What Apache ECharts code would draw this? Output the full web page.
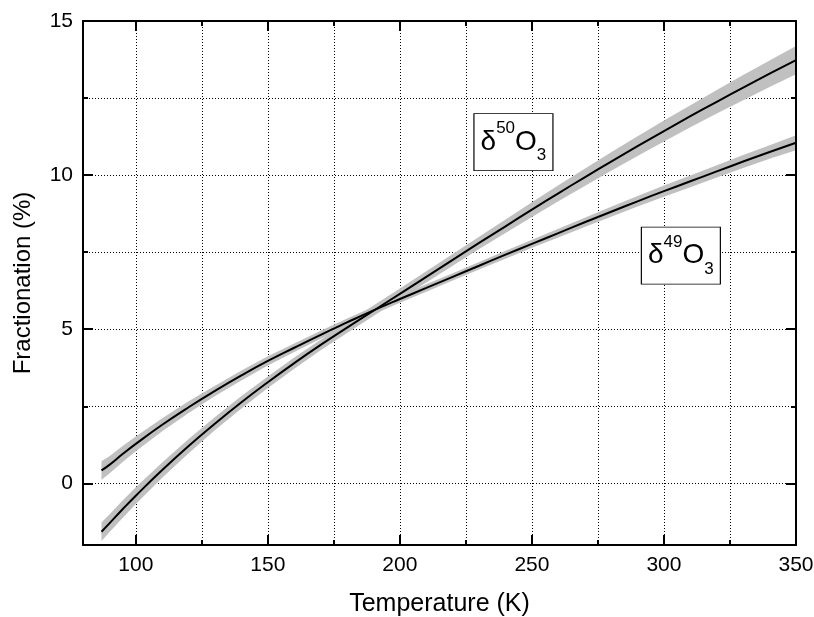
<!DOCTYPE html>
<html>
<head>
<meta charset="utf-8">
<script src="https://cdn.jsdelivr.net/npm/echarts@6/dist/echarts.min.js"></script>
<style>
  html, body { margin: 0; padding: 0; background: #fff; }
  #chart { width: 814px; height: 617px; }
</style>
</head>
<body>
<div id="chart"></div>
<script>
// Temperature grid (K)
const temps = [87, 90, 95, 100, 110, 120, 130, 140, 150, 160, 170, 180, 190, 200, 210, 220, 230, 240, 250, 260, 270, 280, 290, 300, 310, 320, 330, 340, 350];
// Fractionation of 50O3 (%) and its uncertainty
const d50 = [-1.57, -1.3, -0.84, -0.4, 0.43, 1.21, 1.94, 2.63, 3.28, 3.9, 4.49, 5.05, 5.6, 6.15, 6.7, 7.25, 7.8, 8.34, 8.88, 9.41, 9.93, 10.44, 10.94, 11.43, 11.91, 12.38, 12.84, 13.29, 13.73];
const d50Err = [0.3, 0.29, 0.28, 0.27, 0.25, 0.23, 0.21, 0.2, 0.19, 0.18, 0.17, 0.17, 0.17, 0.17, 0.18, 0.19, 0.2, 0.22, 0.24, 0.26, 0.28, 0.3, 0.32, 0.34, 0.36, 0.38, 0.41, 0.43, 0.46];
// Fractionation of 49O3 (%) and its uncertainty
const d49 = [0.42, 0.6, 0.95, 1.28, 1.9, 2.47, 3.0, 3.5, 3.97, 4.4, 4.82, 5.22, 5.61, 5.98, 6.34, 6.7, 7.06, 7.42, 7.77, 8.12, 8.47, 8.81, 9.15, 9.48, 9.8, 10.12, 10.44, 10.75, 11.05];
const d49Err = [0.3, 0.28, 0.26, 0.24, 0.21, 0.19, 0.17, 0.16, 0.15, 0.14, 0.13, 0.13, 0.12, 0.12, 0.12, 0.12, 0.12, 0.13, 0.13, 0.14, 0.15, 0.16, 0.17, 0.18, 0.19, 0.2, 0.21, 0.22, 0.24];

// Axis ticks and labels
const xMajor = [100, 150, 200, 250, 300, 350];
const xMinor = [125, 175, 225, 275, 325];
const xGrid = [100, 125, 150, 175, 200, 225, 250, 275, 300, 325];
const yMajor = [0, 5, 10, 15];
const yMinor = [2.5, 7.5, 12.5];
const yGrid = [0, 2.5, 5, 7.5, 10, 12.5];

// Curve labels: [T, value, mass number]
const curveLabels = [
  { T: 243, v: 11.07, mass: '50' },
  { T: 306.4, v: 7.39, mass: '49' }
];

const FONT = 'Liberation Sans, Arial, Helvetica, sans-serif';
const X_MIN = 80, X_MAX = 350, Y_MIN = -2, Y_MAX = 15;

const pairs = (xs, ys) => xs.map((x, i) => [x, ys[i]]);

function frameAxis(kind, position, ticks, len, withLine, withLabel, extra) {
  const base = {
    type: 'value',
    min: kind === 'x' ? X_MIN : Y_MIN,
    max: kind === 'x' ? X_MAX : Y_MAX,
    position: position,
    axisLine: { show: withLine, onZero: false, lineStyle: { color: '#000', width: 2 } },
    axisTick: { show: len > 0, inside: true, length: len, customValues: ticks,
                lineStyle: { color: '#000', width: 2 } },
    axisLabel: { show: withLabel, customValues: ticks, color: '#000', fontSize: 21,
                 fontFamily: FONT, margin: 10 },
    splitLine: { show: false },
    z: 10
  };
  return Object.assign(base, extra || {});
}

function gridAxis(kind, ticks) {
  return {
    type: 'value',
    min: kind === 'x' ? X_MIN : Y_MIN,
    max: kind === 'x' ? X_MAX : Y_MAX,
    position: kind === 'x' ? 'bottom' : 'left',
    axisLine: { show: false, onZero: false },
    axisTick: { show: false, customValues: ticks },
    axisLabel: { show: false, customValues: ticks },
    splitLine: { show: true, lineStyle: { color: '#000', width: 1, type: [1, 2] } }
  };
}

const xAxes = [
  frameAxis('x', 'bottom', xMajor, 10, true, true, {
    name: 'Temperature (K)', nameLocation: 'middle', nameGap: 47,
    nameTextStyle: { color: '#000', fontSize: 25, fontFamily: FONT }
  }),
  frameAxis('x', 'bottom', xMinor, 5, false, false),
  frameAxis('x', 'top', xMajor, 10, true, false),
  frameAxis('x', 'top', xMinor, 5, false, false),
  gridAxis('x', xGrid)
];
const yAxes = [
  frameAxis('y', 'left', yMajor, 10, true, true, {
    name: 'Fractionation (%)', nameLocation: 'middle', nameGap: 48,
    nameTextStyle: { color: '#000', fontSize: 24, fontFamily: FONT }
  }),
  frameAxis('y', 'left', yMinor, 5, false, false),
  frameAxis('y', 'right', yMajor, 10, true, false),
  frameAxis('y', 'right', yMinor, 5, false, false),
  gridAxis('y', yGrid)
];

// Shaded uncertainty band: polygon along mid+err, back along mid-err
function bandSeries(name, mid, err) {
  return {
    name: name + '-band',
    type: 'custom',
    silent: true,
    z: 2,
    data: [[temps[0], mid[0]]],
    renderItem: function (params, api) {
      const upper = temps.map((t, i) => api.coord([t, mid[i] + err[i]]));
      const lower = temps.map((t, i) => api.coord([t, mid[i] - err[i]])).reverse();
      return {
        type: 'polygon',
        shape: { points: upper.concat(lower) },
        style: { fill: '#c0c0c0', stroke: null }
      };
    }
  };
}

function curveLabel(item) {
  return {
    coord: [item.T, item.v],
    value: item.mass,
    label: {
      show: true,
      position: 'inside',
      formatter: '{d|δ}{sup|' + item.mass + '}{o|O}{sub|3}',
      rich: {
        d:   { fontSize: 28, fontFamily: FONT, color: '#000', lineHeight: 44, verticalAlign: 'middle' },
        sup: { fontSize: 17, fontFamily: FONT, color: '#000', lineHeight: 20, verticalAlign: 'top' },
        o:   { fontSize: 28, fontFamily: FONT, color: '#000', lineHeight: 44, verticalAlign: 'middle' },
        sub: { fontSize: 17, fontFamily: FONT, color: '#000', lineHeight: 15, verticalAlign: 'bottom' }
      }
    }
  };
}

const chart = echarts.init(document.getElementById('chart'), null, { renderer: 'canvas' });
chart.setOption({
  animation: false,
  backgroundColor: '#fff',
  grid: { left: 83, top: 21, right: 18, bottom: 72, containLabel: false, outerBoundsMode: 'none' },
  xAxis: xAxes,
  yAxis: yAxes,
  series: [
    bandSeries('d50', d50, d50Err),
    bandSeries('d49', d49, d49Err),
    { name: 'δ50O3', type: 'line', data: pairs(temps, d50), symbol: 'none', smooth: true,
      lineStyle: { color: '#000', width: 2 }, z: 5,
      markPoint: {
        symbol: 'rect', symbolSize: [79, 57],
        itemStyle: { color: '#fff', borderColor: '#000', borderWidth: 1 },
        data: curveLabels.map(curveLabel)
      }
    },
    { name: 'δ49O3', type: 'line', data: pairs(temps, d49), symbol: 'none', smooth: true,
      lineStyle: { color: '#000', width: 2 }, z: 5 }
  ]
});
</script>
</body>
</html>
